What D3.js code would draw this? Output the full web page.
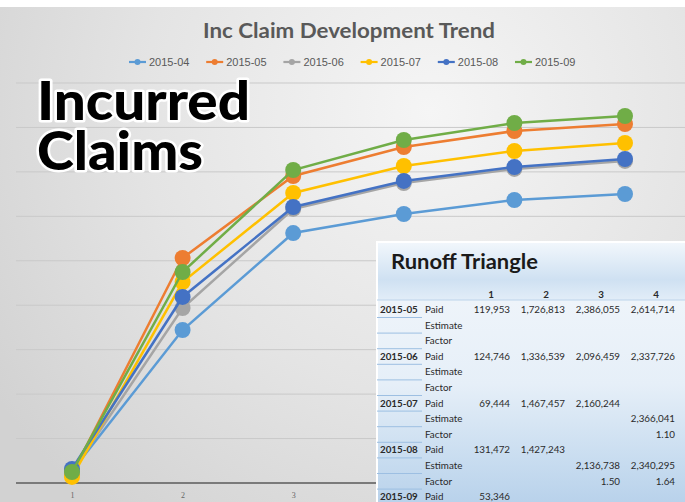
<!DOCTYPE html>
<html>
<head>
<meta charset="utf-8">
<script src="https://cdn.jsdelivr.net/npm/d3@7"></script>
<style>
  body { margin: 0; background: #fff; }
  svg { display: block; }
  .tbl { font-family: Lato, "Open Sans", sans-serif; font-size: 9.8px; fill: #2a2a2a; }
</style>
</head>
<body>
<svg width="685" height="502"></svg>
<script>
const width = 685;
const height = 502;

// chart data (y axis labels not visible)
const devPeriods = [1, 2, 3, 4, 5, 6];
const seriesNames = ["2015-04", "2015-05", "2015-06", "2015-07", "2015-08", "2015-09"];
const seriesColors = ["#5B9BD5", "#ED7D31", "#A5A5A5", "#FFC000", "#4472C4", "#70AD47"];
const inc201504 = [135000, 1721000, 2812000, 3026000, 3184000, 3251000];
const inc201505 = [101000, 2531000, 3454000, 3780000, 3960000, 4039000];
const inc201506 = [124000, 1969000, 3083000, 3375000, 3533000, 3623000];
const inc201507 = [68000, 2261000, 3263000, 3566000, 3735000, 3825000];
const inc201508 = [158000, 2093000, 3105000, 3398000, 3555000, 3645000];
const inc201509 = [124000, 2374000, 3521000, 3859000, 4050000, 4129000];
const yTicks = [500000, 1000000, 1500000, 2000000, 2500000, 3000000, 3500000, 4000000, 4500000];

// runoff triangle
const triCols = [1, 2, 3, 4, 5];
const paid05 = [119953, 1726813, 2386055, 2614714, 2745000];
const paid06 = [124746, 1336539, 2096459, 2337726];
const est06 = [null, null, null, null, 2460000];
const paid07 = [69444, 1467457, 2160244];
const est07 = [null, null, null, 2366041, 2510000];
const fac07 = [null, null, null, 1.10];
const paid08 = [131472, 1427243];
const est08 = [null, null, 2136738, 2340295, 2480000];
const fac08 = [null, null, 1.50, 1.64];
const paid09 = [53346];

const svg = d3.select("svg");
const defs = svg.append("defs");

const bg = defs.append("radialGradient")
    .attr("id", "bg")
    .attr("gradientUnits", "userSpaceOnUse")
    .attr("cx", 430).attr("cy", 110).attr("r", 520);
bg.append("stop").attr("offset", "0%").attr("stop-color", "#f5f5f5");
bg.append("stop").attr("offset", "55%").attr("stop-color", "#e4e4e4");
bg.append("stop").attr("offset", "100%").attr("stop-color", "#d2d2d2");

const hdrGrad = defs.append("linearGradient")
    .attr("id", "hdr").attr("x1", 0).attr("y1", 0).attr("x2", 0).attr("y2", 1);
hdrGrad.append("stop").attr("offset", "0%").attr("stop-color", "#f2f7fc");
hdrGrad.append("stop").attr("offset", "65%").attr("stop-color", "#cfe1f2");
hdrGrad.append("stop").attr("offset", "100%").attr("stop-color", "#e2edf8");

const bodyGrad = defs.append("linearGradient")
    .attr("id", "body").attr("x1", 0).attr("y1", 0).attr("x2", 0).attr("y2", 1);
bodyGrad.append("stop").attr("offset", "0%").attr("stop-color", "#eef4fa");
bodyGrad.append("stop").attr("offset", "40%").attr("stop-color", "#e6eff8");
bodyGrad.append("stop").attr("offset", "75%").attr("stop-color", "#c9ddf0");
bodyGrad.append("stop").attr("offset", "100%").attr("stop-color", "#b6d0ea");

svg.append("rect").attr("width", width).attr("height", height).attr("fill", "#fff");
svg.append("rect").attr("x", 0).attr("y", 7).attr("width", width).attr("height", height - 7)
    .attr("fill", "url(#bg)");

// scales
const x = d3.scalePoint().domain(devPeriods).range([72, 625]);
const y = d3.scaleLinear().domain([0, 4500000]).range([483, 83]);

svg.append("g").selectAll("line")
    .data(yTicks)
    .enter().append("line")
    .attr("x1", 16).attr("x2", width)
    .attr("y1", d => y(d)).attr("y2", d => y(d))
    .attr("stroke", "#c9c9c9").attr("stroke-width", 1);

svg.append("line")
    .attr("x1", 16).attr("x2", width)
    .attr("y1", y(0)).attr("y2", y(0))
    .attr("stroke", "#7a7a7a").attr("stroke-width", 2);

// only the first ticks are visible, the rest sit under the table
const xAxis = svg.append("g")
    .attr("transform", `translate(0,${y(0)})`)
    .call(d3.axisBottom(x).tickValues(devPeriods.filter(d => x(d) < 370)).tickSize(0).tickPadding(9));
xAxis.select(".domain").remove();
xAxis.selectAll("text")
    .attr("fill", "#666").attr("font-size", 8)
    .attr("font-family", "Liberation Serif, serif");

// title and legend
svg.append("text")
    .attr("x", 349).attr("y", 38)
    .attr("text-anchor", "middle")
    .attr("font-family", "Lato, 'Open Sans', sans-serif")
    .attr("font-weight", "bold").attr("font-size", 20)
    .attr("fill", "#595959")
    .attr("textLength", 292).attr("lengthAdjust", "spacingAndGlyphs")
    .text("Inc Claim Development Trend");

const legendX = d3.scalePoint().domain(seriesNames).range([129, 515]);
const legend = svg.append("g").selectAll("g")
    .data(seriesNames)
    .enter().append("g")
    .attr("transform", d => `translate(${legendX(d)},62)`);
legend.append("line")
    .attr("x1", 0).attr("x2", 17)
    .attr("stroke", (d, i) => seriesColors[i]).attr("stroke-width", 2.2);
legend.append("circle")
    .attr("cx", 8.5).attr("r", 3)
    .attr("fill", (d, i) => seriesColors[i]);
legend.append("text")
    .attr("x", 20).attr("y", 3.5)
    .attr("font-family", "'Liberation Sans Narrow', 'Liberation Sans', sans-serif")
    .attr("font-size", 11).attr("fill", "#595959")
    .text(d => d);

// lines
const seriesValues = [inc201504, inc201505, inc201506, inc201507, inc201508, inc201509];
const line = d3.line()
    .x((d, i) => x(devPeriods[i]))
    .y(d => y(d));

const series = svg.append("g").selectAll("g")
    .data(seriesValues)
    .enter().append("g");
series.append("path")
    .attr("d", line)
    .attr("fill", "none")
    .attr("stroke", (d, i) => seriesColors[i])
    .attr("stroke-width", 2.5);
series.each(function(vals, i) {
    d3.select(this).selectAll("circle")
        .data(vals)
        .enter().append("circle")
        .attr("cx", (d, j) => x(devPeriods[j]))
        .attr("cy", d => y(d))
        .attr("r", 8)
        .attr("fill", seriesColors[i]);
});

// big overlay caption
const caption = svg.append("g")
    .attr("font-family", "Lato, 'Open Sans', sans-serif")
    .attr("font-weight", 900).attr("font-size", 54)
    .attr("fill", "#000").attr("stroke", "#fff").attr("stroke-width", 5)
    .attr("stroke-linejoin", "round")
    .attr("paint-order", "stroke");
caption.append("text").attr("x", 37).attr("y", 120)
    .attr("textLength", 213).attr("lengthAdjust", "spacingAndGlyphs")
    .text("Incurred");
caption.append("text").attr("x", 37).attr("y", 170)
    .attr("textLength", 166).attr("lengthAdjust", "spacingAndGlyphs")
    .text("Claims");

// runoff triangle table
const tbl = svg.append("g");
tbl.append("rect").attr("x", 377).attr("y", 242).attr("width", 320).attr("height", 58)
    .attr("fill", "url(#hdr)");
tbl.append("rect").attr("x", 377).attr("y", 300).attr("width", 320).attr("height", 210)
    .attr("fill", "url(#body)");
tbl.append("path")
    .attr("d", "M377,502V242H690")
    .attr("fill", "none").attr("stroke", "#fff").attr("stroke-width", 2);
tbl.append("line")
    .attr("x1", 377).attr("x2", 690).attr("y1", 300).attr("y2", 300)
    .attr("stroke", "#bcd3ea");

tbl.append("text")
    .attr("x", 391).attr("y", 269)
    .attr("font-family", "Lato, 'Open Sans', sans-serif")
    .attr("font-weight", "bold").attr("font-size", 20)
    .attr("fill", "#1a1a1a")
    .attr("textLength", 147).attr("lengthAdjust", "spacingAndGlyphs")
    .text("Runoff Triangle");

const colX = d3.scaleBand().domain(triCols).range([455, 730]);

// header numbers for the columns that show inside the window
tbl.selectAll(".colhdr")
    .data(triCols.filter(c => colX(c) + colX.bandwidth() < width))
    .enter().append("text")
    .attr("class", "tbl")
    .attr("x", d => colX(d) + colX.bandwidth() - 19)
    .attr("y", 298)
    .attr("text-anchor", "middle")
    .attr("font-weight", "bold")
    .text(d => d);

const tableRows = [
    { period: "2015-05", kind: "Paid", vals: paid05 },
    { period: "", kind: "Estimate", vals: [] },
    { period: "", kind: "Factor", vals: [] },
    { period: "2015-06", kind: "Paid", vals: paid06 },
    { period: "", kind: "Estimate", vals: est06 },
    { period: "", kind: "Factor", vals: [] },
    { period: "2015-07", kind: "Paid", vals: paid07 },
    { period: "", kind: "Estimate", vals: est07 },
    { period: "", kind: "Factor", vals: fac07 },
    { period: "2015-08", kind: "Paid", vals: paid08 },
    { period: "", kind: "Estimate", vals: est08 },
    { period: "", kind: "Factor", vals: fac08 },
    { period: "2015-09", kind: "Paid", vals: paid09 }
];

const rowY = d3.scaleLinear().domain([0, 1]).range([313, 328.6]);
const numFmt = d3.format(",");
const facFmt = d3.format(".2f");

const rows = tbl.selectAll(".row")
    .data(tableRows)
    .enter().append("g")
    .attr("transform", (d, i) => `translate(0,${rowY(i)})`);
rows.append("line")
    .attr("x1", 377).attr("x2", 422).attr("y1", 4.5).attr("y2", 4.5)
    .attr("stroke", "#9dbfe2").attr("stroke-width", 1);
rows.append("text")
    .attr("class", "tbl")
    .attr("x", 380)
    .attr("font-weight", "bold")
    .attr("fill", "#1a1a1a")
    .text(d => d.period);
rows.append("text")
    .attr("class", "tbl")
    .attr("x", 425)
    .text(d => d.kind);
rows.each(function(row) {
    d3.select(this).selectAll(".val")
        .data(row.vals.map((v, j) => ({ v: v, col: triCols[j] })).filter(c => c.v != null))
        .enter().append("text")
        .attr("class", "tbl")
        .attr("x", c => colX(c.col) + colX.bandwidth())
        .attr("text-anchor", "end")
        .text(c => row.kind === "Factor" ? facFmt(c.v) : numFmt(c.v));
});
</script>
</body>
</html>
